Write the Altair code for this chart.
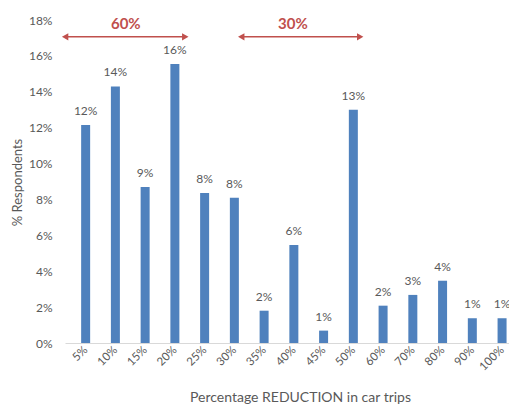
import altair as alt
import pandas as pd

categories = ["5%", "10%", "15%", "20%", "25%", "30%", "35%", "40%", "45%", "50%",
              "60%", "70%", "80%", "90%", "100%"]
values = [12.15, 14.3, 8.7, 15.55, 8.36, 8.1, 1.8, 5.46, 0.69, 13.0,
          2.08, 2.68, 3.47, 1.38, 1.38]
labels = ["12%", "14%", "9%", "16%", "8%", "8%", "2%", "6%", "1%", "13%",
          "2%", "3%", "4%", "1%", "1%"]

arrow_text = ["60%", "30%"]
arrow_from = [-0.69, 5.23]
arrow_to = [3.35, 9.23]
arrow_mid = [1.35, 6.97]
arrow_level = 17.06
arrow_text_level = 17.75

FONT = "Lato"
GREY = "#595959"
BLUE = "#4f81bd"
RED = "#c0504d"

df = pd.DataFrame({"idx": list(range(len(categories))), "cat": categories,
                   "value": values, "label": labels})
arr = pd.DataFrame({"text": arrow_text, "x1": arrow_from, "x2": arrow_to,
                    "xm": arrow_mid, "y": [arrow_level] * 2,
                    "ty": [arrow_text_level] * 2})
heads = pd.DataFrame({
    "x": arrow_from + arrow_to,
    "y": [arrow_level] * 4,
    "shape": ["triangle-left", "triangle-left", "triangle-right", "triangle-right"],
})

label_expr = "[" + ",".join(f"'{c}'" for c in categories) + "][datum.value]"

xscale = alt.Scale(domain=[-0.526, 14.065], nice=False, zero=False)
yscale = alt.Scale(domain=[0, 18], nice=False)

x_axis = alt.Axis(
    values=list(range(len(categories))), labelExpr=label_expr,
    labelAngle=-45, labelAlign="right", labelBaseline="middle",
    labelPadding=5, labelOverlap=False, labelFlush=False, labelBound=False,
    labelFont=FONT, labelFontSize=11.5, labelColor=GREY,
    ticks=False, grid=False, domainColor="#d9d9d9", domainWidth=1,
    title="Percentage REDUCTION  in car trips", titleFont=FONT, titleFontSize=14,
    titleFontWeight="normal", titleColor=GREY, titleX=235, titleY=54,
    titleAlign="center", titleBaseline="middle",
)
y_axis = alt.Axis(
    values=list(range(0, 19, 2)), labelExpr="datum.value + '%'",
    labelOverlap=False, labelFlush=False, labelBound=False,
    labelFont=FONT, labelFontSize=12, labelColor=GREY, labelPadding=13,
    ticks=False, grid=False, domain=False,
    title="% Respondents", titleFont=FONT, titleFontSize=13, titleFontWeight="normal",
    titleColor=GREY, titleX=-48, titleY=162, titleAngle=270,
    titleAlign="center", titleBaseline="middle",
)

base = alt.Chart(df)
bars = base.mark_bar(size=9, color=BLUE, clip=True).encode(
    x=alt.X("idx:Q", scale=xscale, axis=x_axis),
    y=alt.Y("value:Q", scale=yscale, axis=y_axis),
)
texts = base.mark_text(baseline="bottom", dy=-7, font=FONT, fontSize=12,
                       color=GREY, clip=True).encode(
    x=alt.X("idx:Q", axis=x_axis), y=alt.Y("value:Q", axis=y_axis), text="label:N")

lines = alt.Chart(arr).mark_rule(color=RED, strokeWidth=1.5, clip=False).encode(
    x=alt.X("x1:Q", axis=x_axis), x2="x2:Q", y=alt.Y("y:Q", axis=y_axis))
arrow_labels = alt.Chart(arr).mark_text(font=FONT, fontSize=15, fontWeight="bold",
                                        color=RED, baseline="middle").encode(
    x=alt.X("xm:Q", axis=x_axis), y=alt.Y("ty:Q", axis=y_axis), text="text:N")
arrowheads = alt.Chart(heads).mark_point(filled=True, color=RED, size=55,
                                         opacity=1, clip=False).encode(
    x=alt.X("x:Q", axis=x_axis), y=alt.Y("y:Q", axis=y_axis),
    shape=alt.Shape("shape:N", scale=None, legend=None))

chart = alt.layer(bars, texts, lines, arrowheads, arrow_labels).properties(
    width=444, height=323,
    background="white",
    autosize=alt.AutoSizeParams(type="none"),
    padding={"left": 57, "top": 12, "right": 0, "bottom": 64},
).configure_view(stroke=None).configure_axis(labelOverlap=False)

chart.save("out.html", embed_options={"renderer": "svg", "actions": False})
